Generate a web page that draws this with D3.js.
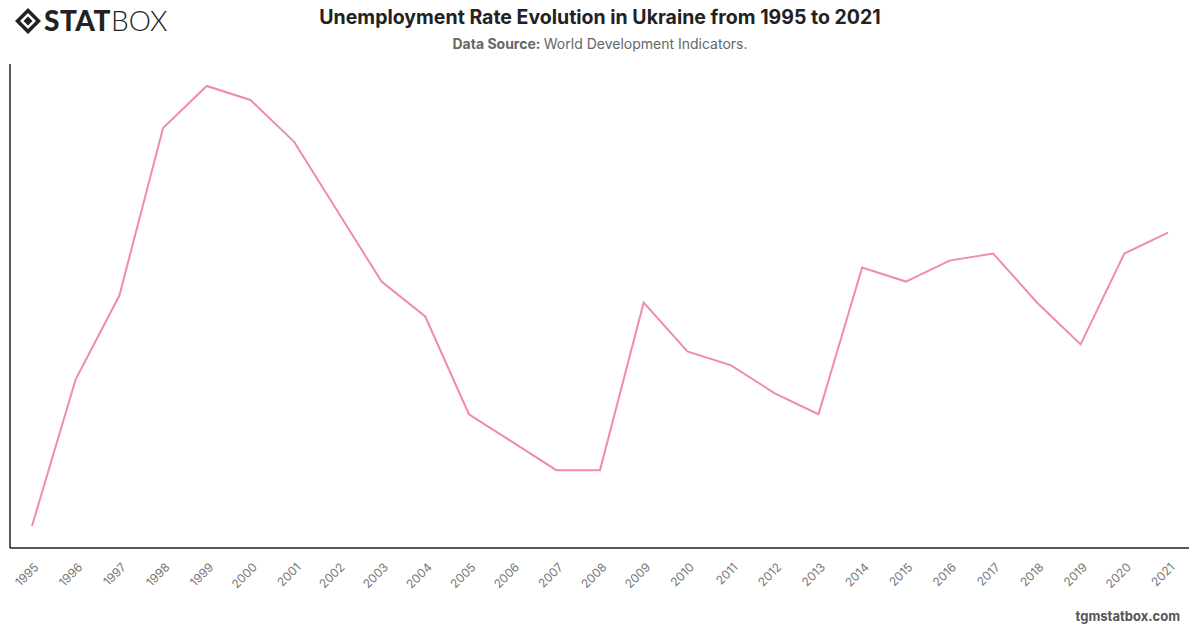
<!DOCTYPE html>
<html>
<head>
<meta charset="utf-8">
<script src="https://cdn.jsdelivr.net/npm/d3@7"></script>
<style>
  body { margin: 0; background: #fff; font-family: Inter, "Noto Sans", sans-serif; }
</style>
</head>
<body>
<div id="chart"></div>
<script>
const years = [1995, 1996, 1997, 1998, 1999, 2000, 2001, 2002, 2003, 2004, 2005, 2006, 2007,
  2008, 2009, 2010, 2011, 2012, 2013, 2014, 2015, 2016, 2017, 2018, 2019, 2020, 2021];
const rates = [5.6, 7.7, 8.9, 11.3, 11.9, 11.7, 11.1, 10.1, 9.1, 8.6, 7.2, 6.8, 6.4,
  6.4, 8.8, 8.1, 7.9, 7.5, 7.2, 9.3, 9.1, 9.4, 9.5, 8.8, 8.2, 9.5, 9.8];

const data = years.map((y, i) => ({ year: y, value: rates[i] }));

const W = 1200, H = 628;
const margin = { top: 64, right: 11, bottom: 80, left: 10 };
const width = W - margin.left - margin.right,
      height = H - margin.top - margin.bottom;

const svg = d3.select("#chart").append("svg")
  .attr("width", W).attr("height", H);

// Logo
const logo = svg.append("g").attr("transform", "translate(15,8)");
logo.append("path")
  .attr("d", "M13,0 L26,13 L13,26 L0,13 Z M13,5 L21,13 L13,21 L5,13 Z")
  .attr("fill", "#222").attr("fill-rule", "evenodd");
logo.append("path")
  .attr("d", "M13,8.5 L17.5,13 L13,17.5 L8.5,13 Z").attr("fill", "#222");
logo.append("text")
  .attr("x", 29).attr("y", 23)
  .style("font-family", "Lato, sans-serif")
  .style("font-size", "28px")
  .style("fill", "#222")
  .call(t => {
    t.append("tspan").style("font-weight", 900).attr("letter-spacing", "0.5px").text("STAT");
    t.append("tspan").style("font-weight", 300).text("BOX");
  });

// Title
svg.append("text")
  .attr("x", W / 2).attr("y", 24)
  .attr("text-anchor", "middle")
  .style("font-size", "19.5px").style("font-weight", "bold").style("fill", "#222")
  .text("Unemployment Rate Evolution in Ukraine from 1995 to 2021");

svg.append("text")
  .attr("x", W / 2).attr("y", 49)
  .attr("text-anchor", "middle")
  .style("font-size", "14px").style("fill", "#666")
  .call(t => {
    t.append("tspan").style("font-weight", "bold").text("Data Source: ");
    t.append("tspan").text("World Development Indicators.");
  });

const g = svg.append("g").attr("transform", `translate(${margin.left},${margin.top})`);

const x = d3.scalePoint()
  .domain(years)
  .range([22, width - 21]);

const ext = d3.extent(rates);
const pad = (ext[1] - ext[0]) * 0.05;
const y = d3.scaleLinear()
  .domain([ext[0] - pad, ext[1] + pad])
  .range([height, 0]);

// Axes
const xAxis = g.append("g")
  .attr("transform", `translate(0,${height})`)
  .call(d3.axisBottom(x).tickSize(0).tickSizeOuter(0));
xAxis.select(".domain").remove();
xAxis.selectAll("text")
  .attr("x", 0).attr("y", 0).attr("dy", "0.35em")
  .attr("text-anchor", "end")
  .attr("transform", "translate(4,17) rotate(-45)")
  .style("font-size", "12px").style("fill", "#777")
  .style("font-family", "Inter, sans-serif");

g.append("line")
  .attr("x1", 0).attr("x2", width).attr("y1", height).attr("y2", height)
  .attr("stroke", "#222").attr("stroke-width", 1.5);
g.append("line")
  .attr("x1", 0).attr("x2", 0).attr("y1", 0).attr("y2", height)
  .attr("stroke", "#222").attr("stroke-width", 1.5);

// Line
const line = d3.line()
  .x(d => x(d.year))
  .y(d => y(d.value));

g.append("path")
  .datum(data)
  .attr("fill", "none")
  .attr("stroke", "#f08ab5")
  .attr("stroke-width", 2)
  .attr("d", line);

// Footer
svg.append("text")
  .attr("x", 1180).attr("y", 621)
  .attr("text-anchor", "end")
  .style("font-size", "13px").style("font-weight", "bold").style("fill", "#555")
  .text("tgmstatbox.com");
</script>
</body>
</html>
